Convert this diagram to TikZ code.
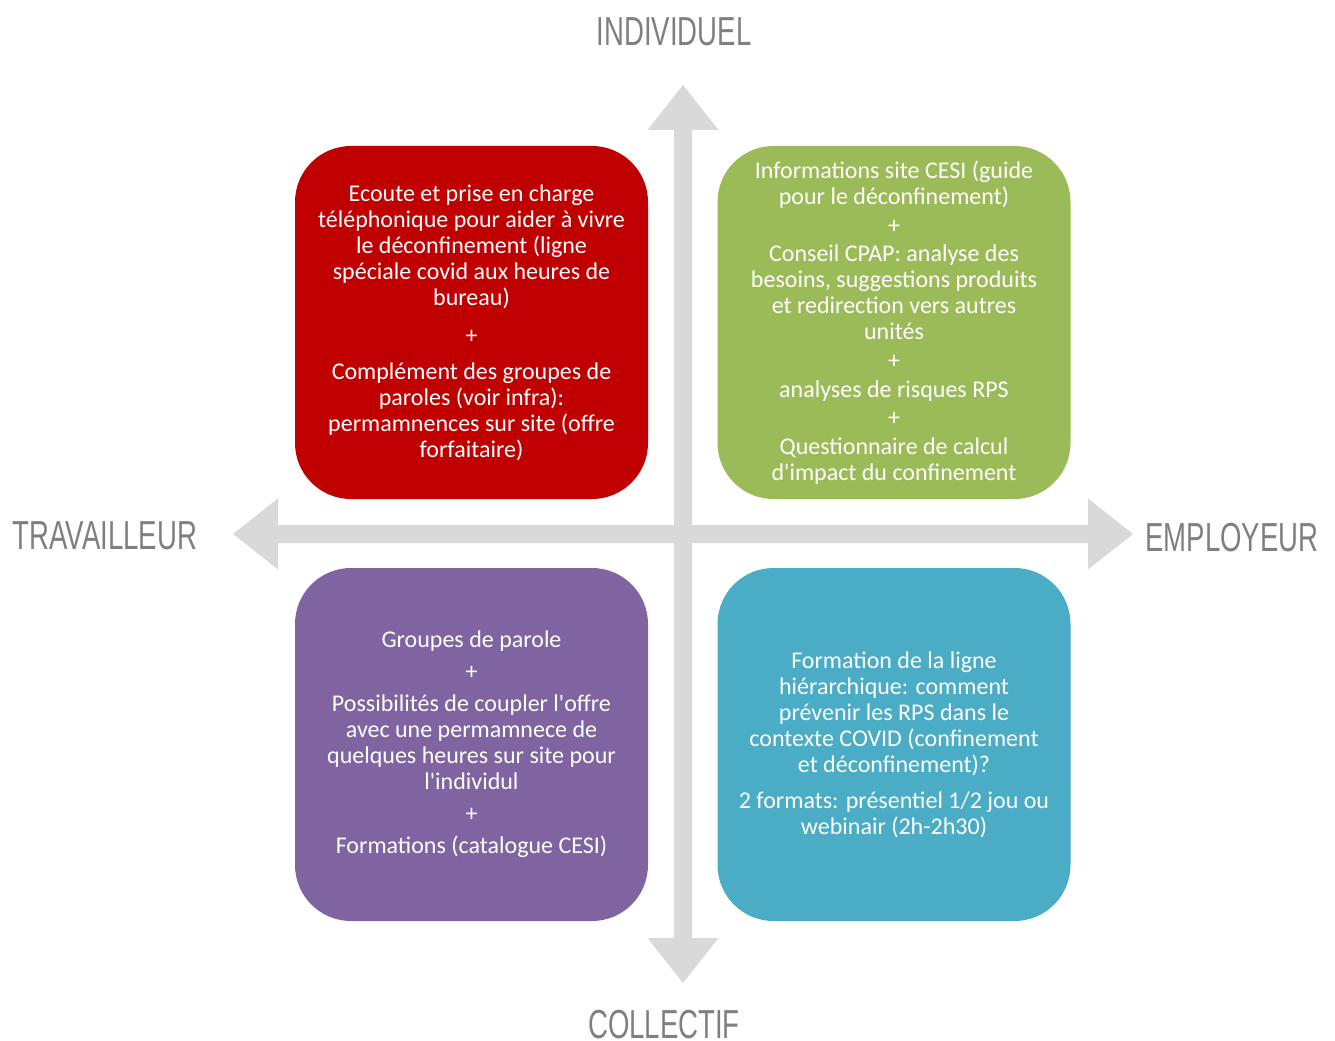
\documentclass[tikz,border=0pt]{standalone}
\usepackage{fontspec}
\usepackage{tikz}
\usetikzlibrary{positioning}
\newfontfamily\boxfont{Carlito}
\newfontfamily\axisfont[FakeStretch=0.68]{Liberation Sans}
\definecolor{quadred}{HTML}{C00000}
\definecolor{quadgreen}{HTML}{9BBB59}
\definecolor{quadpurple}{HTML}{8064A2}
\definecolor{quadblue}{HTML}{4BACC6}
\definecolor{axisgray}{HTML}{D9D9D9}
\definecolor{labelgray}{HTML}{7F7F7F}
\tikzset{
  quadbox/.style={rounded corners=42pt, minimum width=264.75pt, minimum height=264.75pt,
    inner sep=0pt, align=center, text=white, font=\boxfont\fontsize{18}{19.5}\selectfont},
  axislabel/.style={text=labelgray, inner sep=0pt, font=\axisfont\fontsize{30.4}{32}\selectfont}
}

\begin{document}
\begin{tikzpicture}[x=0.75pt, y=-0.75pt]
    \useasboundingbox (0,0) rectangle (1335,1041);

    % Draw axes
    \fill[axisgray] (278,525) -- (278,498.5) -- (233,534) -- (278,569.5) -- (278,543)
      -- (1088,543) -- (1088,569.5) -- (1133,534) -- (1088,498.5) -- (1088,525) -- cycle;
    \fill[axisgray] (674,130) -- (647.5,130) -- (683,85) -- (718.5,130) -- (692,130)
      -- (692,938) -- (718.5,938) -- (683,983) -- (647.5,938) -- (674,938) -- cycle;

    % Axis labels
    \foreach \n/\x/\y/\t in {individuel/674/32/INDIVIDUEL, collectif/664/1025/COLLECTIF,
                             travailleur/105/536/TRAVAILLEUR, employeur/1232/538/EMPLOYEUR} {
      \node[axislabel] (\n) at (\x,\y) {\t};
    }

    % Quadrants
    \node[quadbox, fill=quadred] (ecoute) at (471.5,322.5) {%
      Ecoute et prise en charge\\
      téléphonique pour aider à vivre\\
      le déconfinement (ligne\\
      spéciale covid aux heures de\\
      bureau)\\[9pt]
      +\\[7.5pt]
      Complément des groupes de\\
      paroles (voir infra):\\
      permamnences sur site (offre\\
      forfaitaire)};

    \node[quadbox, fill=quadgreen] (infos) at (894,322.5) {%
      Informations site CESI (guide\\
      pour le déconfinement)\\[2pt]
      +\\[2pt]
      Conseil CPAP: analyse des\\
      besoins, suggestions produits\\
      et redirection vers autres\\
      unités\\[2pt]
      +\\[2pt]
      analyses de risques RPS\\[2pt]
      +\\[2pt]
      Questionnaire de calcul\\
      d'impact du confinement};

    \node[quadbox, fill=quadpurple] (groupes) at (471.5,744.5) {%
      Groupes de parole\\[4.5pt]
      +\\[4.5pt]
      Possibilités de coupler l'offre\\
      avec une permamnece de\\
      quelques heures sur site pour\\
      l'individul\\[4.5pt]
      +\\[4.5pt]
      Formations (catalogue CESI)};

    \node[quadbox, fill=quadblue] (formation) at (894,744.5) {%
      Formation de la ligne\\
      hiérarchique: comment\\
      prévenir les RPS dans le\\
      contexte COVID (confinement\\
      et déconfinement)?\\[7.5pt]
      2 formats: présentiel 1/2 jou ou\\
      webinair (2h-2h30)};

  \end{tikzpicture}
\end{document}
